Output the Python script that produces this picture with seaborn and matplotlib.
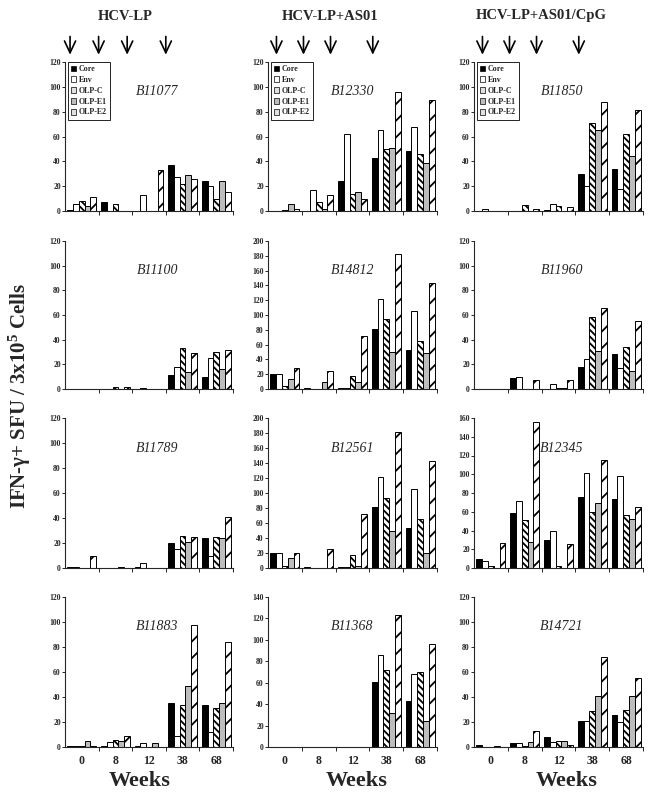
import numpy as np
import pandas as pd
import seaborn as sns
import matplotlib.pyplot as plt
import matplotlib.patches as mpatches

weeks = ["0", "8", "12", "38", "68"]
antigens = ["Core", "Env", "OLP-C", "OLP-E1", "OLP-E2"]
groups = ["HCV-LP", "HCV-LP+AS01", "HCV-LP+AS01/CpG"]

# IFN-g SFU / 3x10^5 cells; one row per week, one column per antigen
B11077 = [[1, 6, 8, 4, 11], [7, 0, 6, 0, 0], [0, 13, 0, 0, 33], [37, 27, 22, 29, 26], [24, 20, 10, 24, 15]]
B11100 = [[0, 0, 0, 0, 0], [0, 0, 2, 0, 2], [0, 1, 0, 0, 0], [11, 18, 33, 14, 29], [10, 25, 30, 16, 32]]
B11789 = [[1, 1, 0, 0, 10], [0, 0, 0, 1, 0], [1, 4, 0, 0, 0], [20, 15, 26, 21, 25], [24, 10, 25, 24, 41]]
B11883 = [[1, 1, 1, 5, 1], [1, 4, 6, 5, 9], [1, 3, 0, 3, 0], [35, 9, 34, 49, 98], [34, 12, 31, 35, 84]]

B12330 = [[0, 0, 1, 6, 2], [0, 17, 7, 2, 13], [24, 62, 14, 15, 10], [43, 65, 50, 51, 96], [48, 68, 46, 39, 89]]
B14812 = [[20, 20, 4, 14, 29], [2, 0, 0, 9, 25], [2, 2, 17, 10, 72], [81, 121, 94, 50, 182], [53, 106, 65, 48, 143]]
B12561 = [[20, 20, 3, 14, 20], [2, 0, 0, 0, 25], [2, 2, 17, 3, 72], [81, 121, 94, 50, 182], [53, 106, 65, 20, 143]]
B11368 = [[0, 0, 0, 0, 0], [0, 0, 0, 0, 0], [0, 0, 0, 0, 0], [61, 86, 72, 32, 123], [43, 68, 70, 24, 96]]

B11850 = [[0, 2, 0, 0, 0], [0, 0, 5, 0, 2], [1, 6, 4, 0, 3], [30, 20, 71, 65, 88], [34, 18, 62, 44, 81]]
B11960 = [[0, 0, 0, 0, 0], [9, 10, 0, 0, 7], [0, 4, 1, 1, 7], [18, 24, 58, 31, 66], [28, 17, 34, 15, 55]]
B12345 = [[10, 8, 2, 0, 27], [59, 71, 51, 28, 156], [30, 40, 2, 0, 26], [76, 101, 60, 69, 115], [74, 98, 57, 52, 65]]
B14721 = [[2, 0, 0, 1, 0], [3, 3, 1, 4, 13], [8, 4, 5, 5, 2], [21, 21, 29, 41, 72], [26, 20, 30, 41, 55]]

# (animal, values, y max) per column, top to bottom
layout = [
    [("B11077", B11077, 120), ("B11100", B11100, 120), ("B11789", B11789, 120), ("B11883", B11883, 120)],
    [("B12330", B12330, 120), ("B14812", B14812, 200), ("B12561", B12561, 200), ("B11368", B11368, 140)],
    [("B11850", B11850, 120), ("B11960", B11960, 120), ("B12345", B12345, 160), ("B14721", B14721, 120)],
]

# immunisation arrows (in category units)
arrow_x = [[-0.35, 0.5, 1.35, 2.5], [-0.25, 0.55, 1.35, 2.6], [-0.25, 0.55, 1.35, 2.6]]

styles = {
    "Core": dict(fc="black", hatch=""),
    "Env": dict(fc="white", hatch=""),
    "OLP-C": dict(fc="white", hatch="\\\\\\\\\\"),
    "OLP-E1": dict(fc="#bdbdbd", hatch=""),
    "OLP-E2": dict(fc="white", hatch="//"),
}

sns.set_style("ticks")
plt.rcParams["font.family"] = ["Liberation Serif", "DejaVu Serif"]
plt.rcParams["font.weight"] = "bold"
plt.rcParams["mathtext.fontset"] = "custom"
plt.rcParams["mathtext.rm"] = "Liberation Serif:bold"
plt.rcParams["mathtext.it"] = "Liberation Serif:italic:bold"
plt.rcParams["mathtext.bf"] = "Liberation Serif:bold"
plt.rcParams["hatch.linewidth"] = 1.3

W, H = 654, 793
fig = plt.figure(figsize=(W / 100, H / 100), dpi=100)

col_x = [(65, 233), (268, 437), (474, 643)]
row_y = [(62, 211), (241, 389), (418, 568), (597, 747)]


def style_bar(p, ag):
    s = styles[ag]
    p.set_facecolor(s["fc"])
    p.set_edgecolor("black")
    p.set_hatch(s["hatch"])


def draw_panel(ax, name, values, ymax, bottom, col):
    df = pd.DataFrame(values, index=weeks, columns=antigens)
    long = df.reset_index(names="week").melt(id_vars="week", var_name="antigen", value_name="sfu")
    sns.barplot(data=long, x="week", y="sfu", hue="antigen", order=weeks, hue_order=antigens,
                palette={a: styles[a]["fc"] for a in antigens}, saturation=1, width=0.86,
                edgecolor="black", linewidth=0.7, errorbar=None, legend=False, ax=ax)
    for cont, ag in zip(ax.containers, antigens):
        for p in cont:
            style_bar(p, ag)

    ax.set_xlim(-0.5, 4.5)
    ax.set_ylim(0, ymax)
    ax.set_yticks(np.arange(0, ymax + 1, 20))
    ax.tick_params(axis="y", labelsize=5.5, length=2, width=0.7, pad=1)
    ax.set_xticks(range(len(weeks)))
    ax.set_xticks([0.5, 1.5, 2.5, 3.5, 4.5], minor=True)
    ax.tick_params(axis="x", which="major", length=0, labelsize=8.5, pad=6)
    ax.tick_params(axis="x", which="minor", length=3, width=0.7)
    if bottom:
        ax.set_xticklabels(weeks, fontweight="bold")
    else:
        ax.set_xticklabels([])
    for lab in ax.get_yticklabels():
        lab.set_fontweight("bold")
    ax.set_xlabel("")
    ax.set_ylabel("")
    sns.despine(ax=ax)
    for sp in ax.spines.values():
        sp.set_linewidth(0.8)

    tx = [0.55, 0.5, 0.52][col]
    ax.text(tx, 0.8, name, transform=ax.transAxes, ha="center", va="center",
            fontsize=10, fontstyle="italic", fontweight="normal")


for c, column in enumerate(layout):
    for r, (name, values, ymax) in enumerate(column):
        x0, x1 = col_x[c]
        y0, y1 = row_y[r]
        ax = fig.add_axes([x0 / W, 1 - y1 / H, (x1 - x0) / W, (y1 - y0) / H])
        draw_panel(ax, name, values, ymax, r == 3, c)
        if r == 0:
            handles = []
            for ag in antigens:
                h = mpatches.Patch(label=ag, linewidth=0.5)
                style_bar(h, ag)
                h.set_hatch("")
                if ag in ("OLP-C", "OLP-E2"):
                    h.set_facecolor("#e0e0e0")
                handles.append(h)
            leg = ax.legend(handles=handles, loc="upper left", bbox_to_anchor=(0.015, 1.0),
                            fancybox=False, edgecolor="black", framealpha=1,
                            handlelength=0.7, handleheight=0.7, handletextpad=0.3,
                            labelspacing=0.35, borderpad=0.4, borderaxespad=0.0,
                            prop={"size": 5.8, "weight": "bold"})
            leg.get_frame().set_linewidth(0.6)
            for xa in arrow_x[c]:
                ax.annotate("", xy=(xa, 1.03), xytext=(xa, 1.19),
                            xycoords=("data", "axes fraction"), textcoords=("data", "axes fraction"),
                            arrowprops=dict(arrowstyle="->,head_length=0.85,head_width=0.4",
                                            lw=1.2, color="black"),
                            annotation_clip=False)

for gx, g in zip([125, 330, 541], groups):
    fig.text(gx / W, 1 - 16 / H, g, ha="center", va="center", fontsize=10.5, fontweight="bold")

for wx in [140, 357, 567]:
    fig.text(wx / W, 1 - 781 / H, "Weeks", ha="center", va="center", fontsize=16, fontweight="bold")

fig.text(20 / W, 0.5, "IFN-\u03b3+ SFU / 3x10$^{5}$ Cells", rotation=90, ha="center", va="center",
         fontsize=15, fontweight="bold")

fig.savefig("out.png", dpi=100)
